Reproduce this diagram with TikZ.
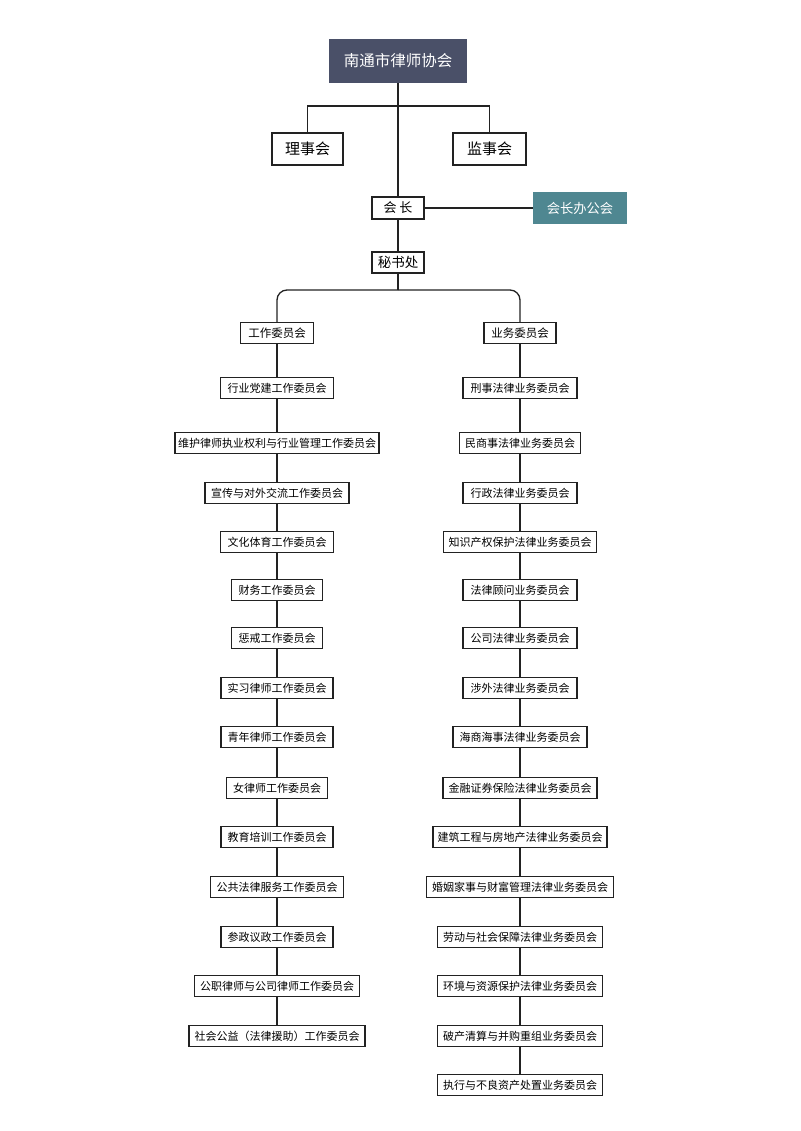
\documentclass[tikz,border=0pt]{standalone}
\usepackage{fontspec}
\newfontfamily\cjk{Noto Sans CJK SC}
\definecolor{slate}{HTML}{4A5068}
\definecolor{teal2}{HTML}{4F8791}
\definecolor{lnc}{HTML}{222222}
\begin{document}
\begin{tikzpicture}[x=1pt,y=-1pt,
  sbox/.style={draw=lnc,line width=1.2pt,fill=white,font=\cjk\fontsize{11}{11}\selectfont,inner xsep=3pt,inner ysep=0pt,minimum height=21pt,text=black},
  bbox/.style={draw=lnc,line width=1.3pt,fill=white,font=\cjk\fontsize{15}{15}\selectfont,inner xsep=3pt,inner ysep=0pt,minimum height=32pt,text=black},
  conn/.style={draw=lnc,line width=1.3pt}]
\useasboundingbox (0,0) rectangle (800,1131);
\fill[white] (0,0) rectangle (800,1131);
% top part
\node[draw=none,fill=slate,text=white,font=\cjk\fontsize{15.5}{15.5}\selectfont,minimum width=138pt,minimum height=44pt,inner sep=0pt] (top) at (398,61) {南通市律师协会};
\node[bbox,minimum width=71pt] (lsh) at (307.5,149) {理事会};
\node[bbox,minimum width=73pt] (jsh) at (489.5,149) {监事会};
\node[sbox,font=\cjk\fontsize{13}{13}\selectfont,minimum width=52pt,minimum height=22pt] (hz) at (398,208) {会\ 长};
\node[draw=none,fill=teal2,text=white,font=\cjk\fontsize{13.3}{13.3}\selectfont,minimum width=94pt,minimum height=32pt,inner sep=0pt] (hzb) at (580,208) {会长办公会};
\node[sbox,font=\cjk\fontsize{13.5}{13.5}\selectfont,minimum width=52pt,minimum height=21pt] (msc) at (398,262.5) {秘书处};
\coordinate (b1) at (398,106);
\coordinate (split) at (398,290);
% level 2
\node[sbox,font=\cjk\fontsize{11.5}{11.5}\selectfont,minimum width=73pt] (gz) at (277,333) {工作委员会};
\node[sbox,font=\cjk\fontsize{11.5}{11.5}\selectfont,minimum width=72pt] (yw) at (520,333) {业务委员会};
% left column
\node[sbox,minimum width=113pt] (l1) at (277,388) {行业党建工作委员会};
\node[sbox,minimum width=204pt] (l2) at (277,443) {维护律师执业权利与行业管理工作委员会};
\node[sbox,minimum width=144pt] (l3) at (277,493) {宣传与对外交流工作委员会};
\node[sbox,minimum width=113pt] (l4) at (277,542) {文化体育工作委员会};
\node[sbox,minimum width=91pt] (l5) at (277,590) {财务工作委员会};
\node[sbox,minimum width=91pt] (l6) at (277,638) {惩戒工作委员会};
\node[sbox,minimum width=112pt] (l7) at (277,688) {实习律师工作委员会};
\node[sbox,minimum width=112pt] (l8) at (277,737) {青年律师工作委员会};
\node[sbox,minimum width=101pt] (l9) at (277,788) {女律师工作委员会};
\node[sbox,minimum width=112pt] (l10) at (277,837) {教育培训工作委员会};
\node[sbox,minimum width=133pt] (l11) at (277,887) {公共法律服务工作委员会};
\node[sbox,minimum width=112pt] (l12) at (277,937) {参政议政工作委员会};
\node[sbox,minimum width=165pt] (l13) at (277,986) {公职律师与公司律师工作委员会};
\node[sbox,minimum width=176pt] (l14) at (277,1036) {社会公益（法律援助）工作委员会};
% right column
\node[sbox,minimum width=114pt] (r1) at (520,388) {刑事法律业务委员会};
\node[sbox,minimum width=121pt] (r2) at (520,443) {民商事法律业务委员会};
\node[sbox,minimum width=114pt] (r3) at (520,493) {行政法律业务委员会};
\node[sbox,minimum width=153pt] (r4) at (520,542) {知识产权保护法律业务委员会};
\node[sbox,minimum width=114pt] (r5) at (520,590) {法律顾问业务委员会};
\node[sbox,minimum width=114pt] (r6) at (520,638) {公司法律业务委员会};
\node[sbox,minimum width=114pt] (r7) at (520,688) {涉外法律业务委员会};
\node[sbox,minimum width=134pt] (r8) at (520,737) {海商海事法律业务委员会};
\node[sbox,minimum width=154pt] (r9) at (520,788) {金融证券保险法律业务委员会};
\node[sbox,minimum width=174pt] (r10) at (520,837) {建筑工程与房地产法律业务委员会};
\node[sbox,minimum width=187pt] (r11) at (520,887) {婚姻家事与财富管理法律业务委员会};
\node[sbox,minimum width=165pt] (r12) at (520,937) {劳动与社会保障法律业务委员会};
\node[sbox,minimum width=165pt] (r13) at (520,986) {环境与资源保护法律业务委员会};
\node[sbox,minimum width=165pt] (r14) at (520,1036) {破产清算与并购重组业务委员会};
\node[sbox,minimum width=165pt] (r15) at (520,1085) {执行与不良资产处置业务委员会};
% connectors
\draw[conn] (top.south) -- (hz.north);
\draw[conn] (b1) -| (lsh.north);
\draw[conn] (b1) -| (jsh.north);
\draw[conn] (hz.east) -- (hzb.west);
\draw[conn] (hz.south) -- (msc.north);
\draw[conn] (msc.south) -- (split);
\draw[conn,rounded corners=10pt] (split) -| (gz.north);
\draw[conn,rounded corners=10pt] (split) -| (yw.north);
\draw[conn] (gz.south) -- (l1.north);
\foreach \a/\b in {l1/l2,l2/l3,l3/l4,l4/l5,l5/l6,l6/l7,l7/l8,l8/l9,l9/l10,l10/l11,l11/l12,l12/l13,l13/l14}
  \draw[conn] (\a.south) -- (\b.north);
\draw[conn] (yw.south) -- (r1.north);
\foreach \a/\b in {r1/r2,r2/r3,r3/r4,r4/r5,r5/r6,r6/r7,r7/r8,r8/r9,r9/r10,r10/r11,r11/r12,r12/r13,r13/r14,r14/r15}
  \draw[conn] (\a.south) -- (\b.north);
\end{tikzpicture}
\end{document}
